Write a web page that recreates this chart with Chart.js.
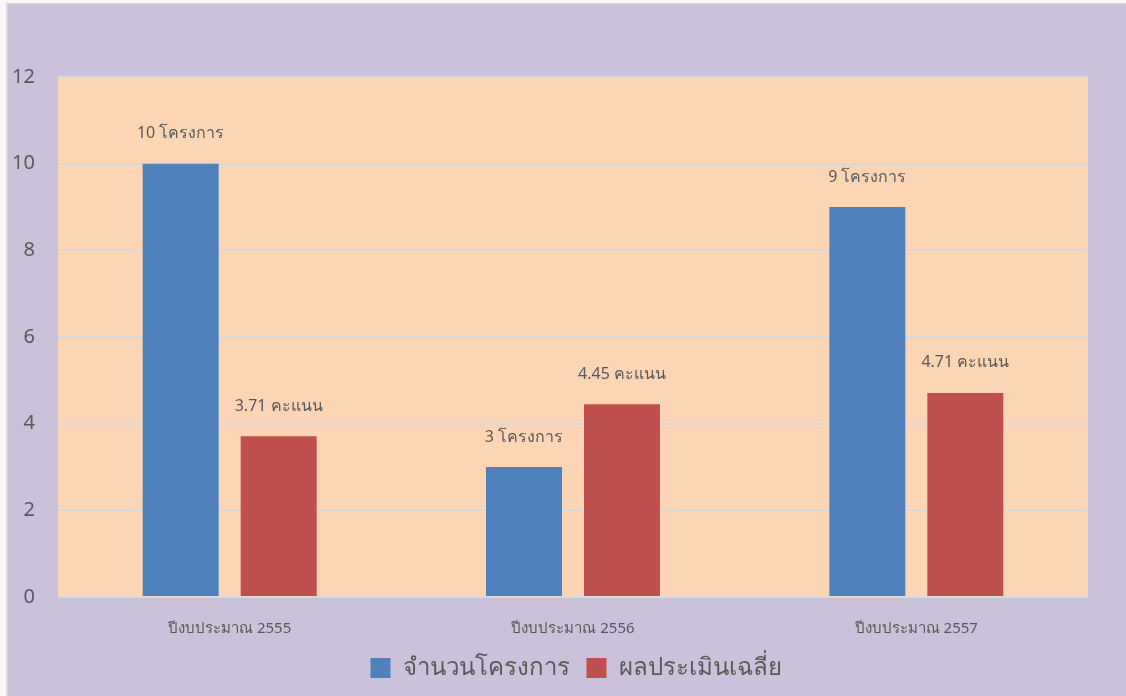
<!DOCTYPE html>
<html>
<head>
<meta charset="utf-8">
<script src="https://cdn.jsdelivr.net/npm/chart.js@4"></script>
<style>
  html, body { margin: 0; padding: 0; background: #f7f7f7; }
  .frame {
    position: absolute; left: 6px; top: 3px; right: 0; bottom: 0;
    border-left: 2px solid #d9d9d9; border-top: 1px solid #d9d9d9;
    background: #CCC1DA;
  }
  .frame canvas { display: block; }
</style>
</head>
<body>
<div class="frame"><canvas id="budgetChart" width="1118" height="692"></canvas></div>
<script>
// ข้อมูลของกราฟ
const categories = ['ปีงบประมาณ 2555', 'ปีงบประมาณ 2556', 'ปีงบประมาณ 2557'];
const projectCounts = [10, 3, 9];
const avgScores = [3.71, 4.45, 4.71];
const seriesNames = ['จำนวนโครงการ', 'ผลประเมินเฉลี่ย'];
const labelSuffixes = ['โครงการ', 'คะแนน'];
const yTicks = [0, 2, 4, 6, 8, 10, 12];

const FONT = "'Noto Sans', 'DejaVu Sans', sans-serif";
const TEXT = '#595959';

// พื้นหลังสีส้มอ่อนของพื้นที่กราฟ
const plotBg = {
    id: 'plotBg',
    beforeDraw(chart) {
        const a = chart.chartArea;
        const ctx = chart.ctx;
        ctx.save();
        ctx.fillStyle = '#FCD5B5';
        ctx.fillRect(a.left, a.top, a.right - a.left, a.bottom - a.top);
        ctx.restore();
    }
};

// เลื่อนคำอธิบายสัญลักษณ์ไปทางขวาเล็กน้อย (ตามภาพต้นฉบับ)
const legendShift = {
    id: 'legendShift',
    afterLayout(chart) {
        if (chart.legend) {
            chart.legend.left += 28;
            chart.legend.right += 28;
        }
    }
};

// ป้ายค่าเหนือแท่ง
const barLabels = {
    id: 'barLabels',
    afterDatasetsDraw(chart) {
        const ctx = chart.ctx;
        ctx.save();
        ctx.font = '16px ' + FONT;
        ctx.fillStyle = TEXT;
        ctx.textAlign = 'center';
        ctx.textBaseline = 'middle';
        chart.data.datasets.forEach((ds, i) => {
            chart.getDatasetMeta(i).data.forEach((bar, j) => {
                ctx.fillText(ds.data[j] + ' ' + labelSuffixes[i], bar.x, bar.y - 30);
            });
        });
        ctx.restore();
    }
};

new Chart(document.getElementById('budgetChart'), {
    type: 'bar',
    data: {
        labels: categories,
        datasets: [
            { label: seriesNames[0], data: projectCounts, backgroundColor: '#4F81BD' },
            { label: seriesNames[1], data: avgScores, backgroundColor: '#C0504D' }
        ]
    },
    options: {
        responsive: false,
        animation: false,
        categoryPercentage: 0.5709,
        barPercentage: 0.7755,
        layout: { padding: { top: 73, right: 38, bottom: 6, left: 0 } },
        plugins: {
            tooltip: { enabled: false },
            legend: {
                position: 'bottom',
                labels: {
                    boxWidth: 20, boxHeight: 20, padding: 17,
                    color: TEXT,
                    font: { family: FONT, size: 24 }
                }
            }
        },
        scales: {
            x: {
                grid: { display: false, drawTicks: false },
                border: { display: false },
                ticks: { color: TEXT, padding: 23, font: { family: FONT, size: 15 } },
                afterFit: (scale) => { scale.height = 42; }
            },
            y: {
                min: 0, max: 12,
                afterBuildTicks: (scale) => { scale.ticks = yTicks.map(v => ({ value: v })); },
                grid: { color: '#D9D9D9', lineWidth: 2, drawTicks: false },
                border: { display: false },
                ticks: { color: TEXT, padding: 23, font: { family: FONT, size: 20 } },
                afterFit: (scale) => { scale.width = 50; }
            }
        }
    },
    plugins: [plotBg, legendShift, barLabels]
});
</script>
</body>
</html>
